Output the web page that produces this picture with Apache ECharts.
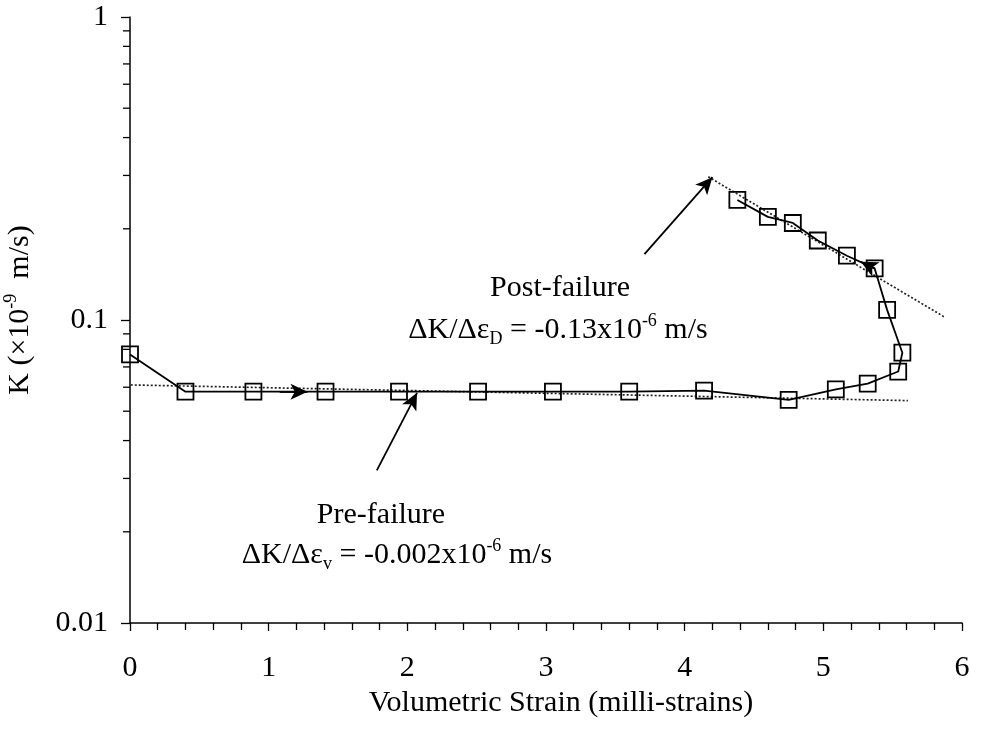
<!DOCTYPE html>
<html>
<head>
<meta charset="utf-8">
<script src="https://cdn.jsdelivr.net/npm/echarts@6/dist/echarts.min.js"></script>
<style>html,body{margin:0;padding:0;background:#fff;}#c{width:984px;height:732px;}</style>
</head>
<body>
<div id="c"></div>
<script>
// ---- data ----
const strain = [0, 0.40, 0.89, 1.41, 1.94, 2.51, 3.05, 3.60, 4.14, 4.75, 5.09, 5.32, 5.54, 5.57, 5.46, 5.37, 5.17, 4.96, 4.78, 4.60, 4.38];
const permK  = [0.077, 0.058, 0.058, 0.058, 0.058, 0.058, 0.058, 0.058, 0.0585, 0.0545, 0.059, 0.0617, 0.0676, 0.078, 0.108, 0.148, 0.163, 0.183, 0.209, 0.219, 0.249];
const preTrendX = [-0.11, 5.61];
const preTrendK = [0.0612, 0.0542];
const postTrendX = [4.17, 5.87];
const postTrendK = [0.297, 0.1025];
const xTicks = [0, 1, 2, 3, 4, 5, 6];
const yMinorTicks = [0.02,0.03,0.04,0.05,0.06,0.07,0.08,0.09,0.2,0.3,0.4,0.5,0.6,0.7,0.8,0.9];
// annotation arrows [fromX, fromK, toX, toK]
const arrows = [
  [1.78, 0.0319, 2.07, 0.0575],
  [3.71, 0.165, 4.20, 0.296],
  [1.08, 0.058, 1.28, 0.058],
  [5.37, 0.1477, 5.27, 0.1557]
];

const FONT = 'Liberation Serif';
const chart = echarts.init(document.getElementById('c'));

const richBase = {
  a: {fontSize: 30, fontFamily: FONT, color: '#000', lineHeight: 36},
  sup: {fontSize: 18, fontFamily: FONT, color: '#000', lineHeight: 18, verticalAlign: 'top'},
  sub: {fontSize: 18, fontFamily: FONT, color: '#000', lineHeight: 18, verticalAlign: 'bottom'}
};

chart.setOption({
  animation: false,
  backgroundColor: '#fff',
  grid: {left: 130, right: 22, top: 17, bottom: 109, outerBoundsMode: 'none', containLabel: false},
  xAxis: {
    type: 'value', min: xTicks[0], max: xTicks[xTicks.length - 1], interval: 1,
    name: 'Volumetric Strain (milli-strains)',
    nameLocation: 'middle', nameGap: 62,
    nameTextStyle: {fontSize: 30, fontFamily: FONT, color: '#000', padding: [0, 0, 0, 30]},
    axisLine: {lineStyle: {color: '#000', width: 1.5}},
    axisTick: {show: true, length: 8, lineStyle: {color: '#000', width: 1.3}},
    minorTick: {show: true, splitNumber: 5, length: 7, lineStyle: {color: '#000', width: 1.3}},
    axisLabel: {fontSize: 30, fontFamily: FONT, color: '#000', margin: 30},
    splitLine: {show: false}
  },
  yAxis: {
    type: 'log', logBase: 10, min: 0.01, max: 1,
    name: '{a|K (×10}{sup|-9}{a|  m/s)}',
    nameLocation: 'middle', nameGap: 92,
    nameTextStyle: {rich: richBase, padding: [0, 0, 0, 20]},
    axisLine: {show: true, lineStyle: {color: '#000', width: 1.5}},
    axisTick: {show: true, length: 9, lineStyle: {color: '#000', width: 1.3}},
    axisLabel: {fontSize: 30, fontFamily: FONT, color: '#000', margin: 22,
      formatter: function (v) { return String(+v.toPrecision(3)); }},
    splitLine: {show: false}
  },
  series: [
    {
      type: 'custom', silent: true, clip: false,
      data: yMinorTicks.map(v => [0, v]),
      renderItem: function (params, api) {
        const p = api.coord([api.value(0), api.value(1)]);
        return {type: 'line', shape: {x1: p[0] - 7, y1: p[1], x2: p[0], y2: p[1]},
          style: {stroke: '#000', lineWidth: 1.3}};
      }
    },
    {
      type: 'line', clip: false, showSymbol: false, silent: true,
      data: preTrendX.map((x, i) => [x, preTrendK[i]]),
      lineStyle: {color: '#222', width: 1.7, type: [2, 2]}
    },
    {
      type: 'line', clip: false, showSymbol: false, silent: true,
      data: postTrendX.map((x, i) => [x, postTrendK[i]]),
      lineStyle: {color: '#222', width: 1.7, type: [2, 2]}
    },
    {
      type: 'line', clip: false,
      data: strain.map((x, i) => [x, permK[i]]),
      symbol: 'rect', symbolSize: 16,
      itemStyle: {color: 'rgba(0,0,0,0)', borderColor: '#000', borderWidth: 1.8},
      lineStyle: {color: '#000', width: 1.8}
    },
    {
      type: 'line', data: [], silent: true,
      markLine: {
        silent: true, animation: false,
        symbol: ['none', 'arrow'], symbolSize: [12, 17],
        label: {show: false},
        lineStyle: {color: '#000', width: 1.8, type: 'solid'},
        data: arrows.map(a => [{coord: [a[0], a[1]]}, {coord: [a[2], a[3]]}])
      }
    }
  ],
  graphic: [
    {type: 'text', x: 560, y: 288, style: {text: 'Post-failure', font: '30px "Liberation Serif"', fill: '#000', align: 'center', verticalAlign: 'middle'}},
    {type: 'text', x: 558, y: 330, style: {text: '{a|ΔK/Δε}{sub|D}{a| = -0.13x10}{sup|-6}{a| m/s}', rich: richBase, align: 'center', verticalAlign: 'middle'}},
    {type: 'text', x: 381, y: 515, style: {text: 'Pre-failure', font: '30px "Liberation Serif"', fill: '#000', align: 'center', verticalAlign: 'middle'}},
    {type: 'text', x: 397, y: 555, style: {text: '{a|ΔK/Δε}{sub|v}{a| = -0.002x10}{sup|-6}{a| m/s}', rich: richBase, align: 'center', verticalAlign: 'middle'}}
  ]
});
</script>
</body>
</html>
